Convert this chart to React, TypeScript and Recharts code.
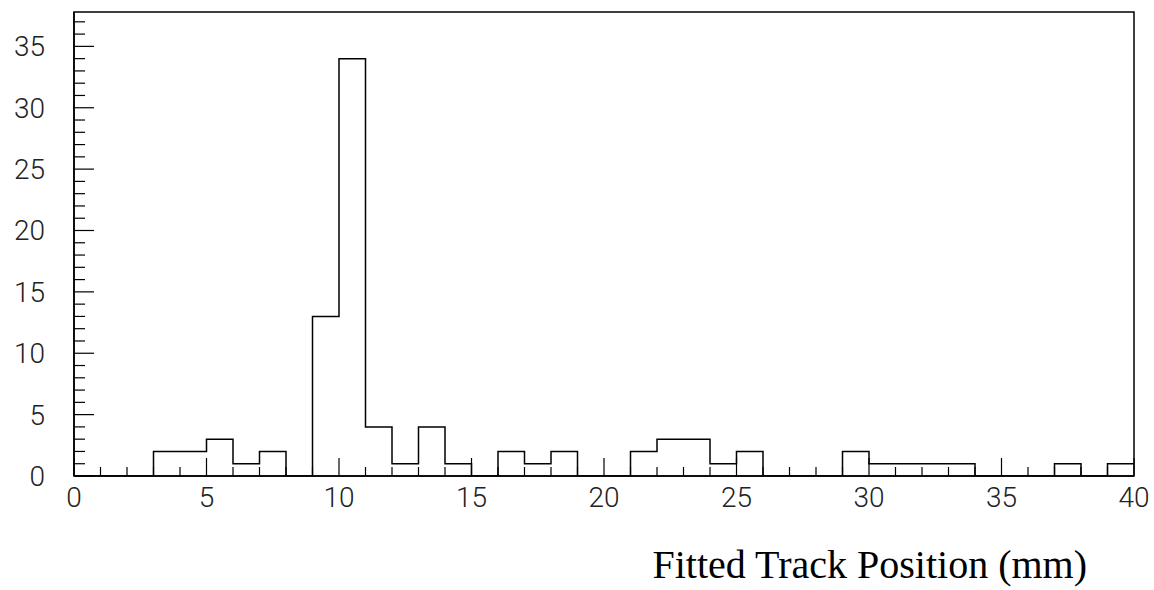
import React from "react";
import { ComposedChart, Line, XAxis, YAxis, ReferenceArea } from "recharts";

const binEdgesStart = 0;
const binWidth = 1;
const counts = [
  0, 0, 0, 2, 2, 3, 1, 2, 0, 13,
  34, 4, 1, 4, 1, 0, 2, 1, 2, 0,
  0, 2, 3, 3, 1, 2, 0, 0, 0, 2,
  1, 1, 1, 1, 0, 0, 0, 1, 0, 1,
];
const xTicks = Array.from({ length: 41 }, (_, i) => i);
const xLabels = [0, 5, 10, 15, 20, 25, 30, 35, 40];
const yTicks = Array.from({ length: 38 }, (_, i) => i);
const yLabels = [0, 5, 10, 15, 20, 25, 30, 35];
const yMax = 37.8;
const xTitle = "Fitted Track Position (mm)";

const data = [
  ...counts.map((c, i) => ({ x: binEdgesStart + i * binWidth, y: c })),
  { x: binEdgesStart + counts.length * binWidth, y: counts[counts.length - 1] },
];

const W = 1154;
const H = 590;
const tickFont = "Roboto, 'DejaVu Sans', sans-serif";

const XTick = (props: any) => {
  const { x, y, payload } = props;
  const v = payload.value;
  const major = xLabels.includes(v);
  return (
    <g>
      <line x1={x} x2={x} y1={y} y2={y - (major ? 18 : 9)} stroke="#000" strokeWidth={1.2} />
      {major && (
        <text x={x} y={y + 31} textAnchor="middle" fontFamily={tickFont} fontWeight={300} fontSize={28} fill="#222">
          {v}
        </text>
      )}
    </g>
  );
};

const YTick = (props: any) => {
  const { x, y, payload } = props;
  const v = payload.value;
  const major = yLabels.includes(v);
  return (
    <g>
      <line x1={x} x2={x + (major ? 20 : 11)} y1={y} y2={y} stroke="#000" strokeWidth={1.2} />
      {major && (
        <text x={x - 29} y={y + 10} textAnchor="end" fontFamily={tickFont} fontWeight={300} fontSize={28} fill="#222">
          {v}
        </text>
      )}
    </g>
  );
};

export default function App() {
  return (
    <div style={{ position: "absolute", left: 0, top: 0, width: W, height: H, background: "#fff" }}>
      <ComposedChart width={W} height={H} data={data} margin={{ top: 12, right: 20, left: 0, bottom: 0 }}>
        <XAxis
          dataKey="x"
          type="number"
          domain={[0, 40]}
          ticks={xTicks}
          interval={0}
          height={114}
          tickSize={0}
          tickMargin={0}
          tickLine={false}
          axisLine={{ stroke: "#000", strokeWidth: 1.5 }}
          tick={<XTick />}
          allowDataOverflow
        />
        <YAxis
          type="number"
          domain={[0, yMax]}
          ticks={yTicks}
          interval={0}
          width={74}
          tickSize={0}
          tickMargin={0}
          tickLine={false}
          axisLine={{ stroke: "#000", strokeWidth: 1.5 }}
          tick={<YTick />}
          allowDataOverflow
        />
        <ReferenceArea x1={0} x2={40} y1={0} y2={yMax} fill="none" stroke="#000" strokeWidth={1.5} ifOverflow="visible" />
        <Line
          dataKey="y"
          type="stepAfter"
          stroke="#000"
          strokeWidth={1.5}
          dot={false}
          activeDot={false}
          isAnimationActive={false}
        />
      </ComposedChart>
      <svg width={W} height={H} style={{ position: "absolute", left: 0, top: 0, pointerEvents: "none" }}>
        <text x={1087} y={578} textAnchor="end" fontFamily="'Liberation Serif', 'Times New Roman', serif" fontSize={40} fill="#000">
          {xTitle}
        </text>
      </svg>
    </div>
  );
}
